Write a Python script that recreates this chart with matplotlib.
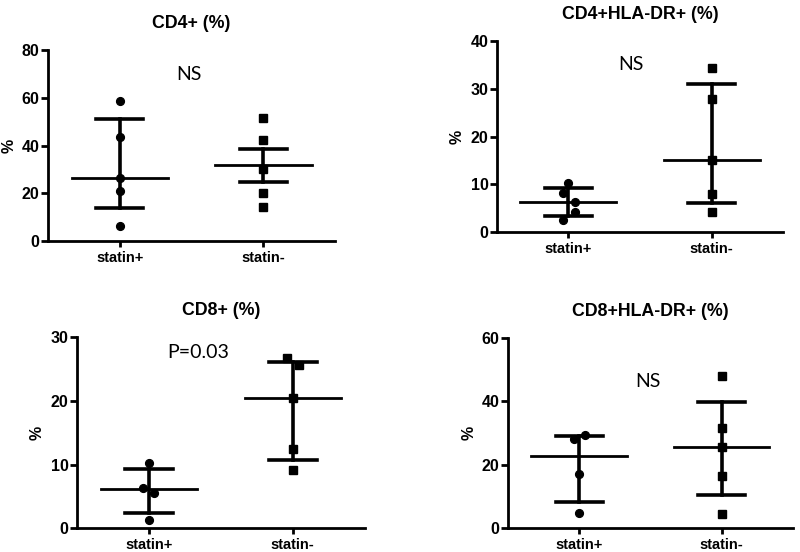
import numpy as np
import matplotlib.pyplot as plt

groups = ['statin+', 'statin-']

titles = ['CD4+ (%)', 'CD4+HLA-DR+ (%)', 'CD8+ (%)', 'CD8+HLA-DR+ (%)']
notes = ['NS', 'NS', 'P=0.03', 'NS']
ymax = [80, 40, 30, 60]
ystep = [20, 10, 10, 20]

# individual values (statin+, statin-)
cd4_pos = [58.6, 43.4, 26.4, 21.0, 6.4]
cd4_neg = [51.6, 42.2, 30.1, 20.3, 14.3]
cd4dr_pos = [10.2, 8.1, 6.2, 4.1, 2.6]
cd4dr_neg = [34.4, 27.8, 15.2, 8.0, 4.2]
cd8_pos = [10.2, 6.4, 5.6, 1.3]
cd8_neg = [26.7, 25.6, 20.5, 12.4, 9.2]
cd8dr_pos = [29.3, 28.0, 17.1, 4.9]
cd8dr_neg = [47.9, 31.6, 25.7, 16.4, 4.4]

# median and range lines (median, low, high)
cd4_stats = [[26.4, 13.7, 51.0], [31.9, 24.9, 38.6]]
cd4dr_stats = [[6.2, 3.3, 9.2], [15.2, 6.1, 31.1]]
cd8_stats = [[6.1, 2.4, 9.3], [20.5, 10.8, 26.1]]
cd8dr_stats = [[22.7, 8.2, 29.0], [25.7, 10.5, 39.8]]

points = [(cd4_pos, cd4_neg), (cd4dr_pos, cd4dr_neg),
          (cd8_pos, cd8_neg), (cd8dr_pos, cd8dr_neg)]
stats = [cd4_stats, cd4dr_stats, cd8_stats, cd8dr_stats]

# small horizontal scatter of the dots, as in the original
jitter = [([0, 0, 0, 0, 0], [0, 0, 0, 0, 0]),
          ([0, -0.035, 0.046, 0.046, -0.035], [0, 0, 0, 0, 0]),
          ([0, -0.037, 0.039, 0], [-0.04, 0.04, 0, 0, 0]),
          ([0.04, -0.04, 0, 0], [0, 0, 0, 0, 0])]

# axes boxes in figure fraction
boxes = [[0.060, 0.5634, 0.359, 0.346],
         [0.621, 0.5797, 0.358, 0.3455],
         [0.096, 0.0429, 0.360, 0.346],
         [0.635, 0.0429, 0.356, 0.345]]
note_pos = [(0.49, 0.87), (0.47, 0.88), (0.42, 0.918), (0.49, 0.773)]

plt.rcParams['font.family'] = ['Liberation Sans', 'DejaVu Sans']
fig = plt.figure(figsize=(8, 5.52), dpi=100)

for i in range(4):
    ax = fig.add_axes(boxes[i])
    for g in range(2):
        vals = points[i][g]
        xs = g + np.array(jitter[i][g][:len(vals)])
        ax.plot(xs, vals, linestyle='none', color='black',
                marker='o' if g == 0 else 's',
                markersize=5.6 if g == 0 else 5.3, zorder=3)
        med, lo, hi = stats[i][g]
        ax.plot([g - 0.335, g + 0.335], [med, med], color='black', lw=2, zorder=2)
        ax.plot([g, g], [lo, hi], color='black', lw=2.6, zorder=2)
        ax.plot([g - 0.165, g + 0.165], [lo, lo], color='black', lw=2.6, zorder=2)
        ax.plot([g - 0.165, g + 0.165], [hi, hi], color='black', lw=2.6, zorder=2)

    ax.set_xlim(-0.5, 1.5)
    ax.set_ylim(0, ymax[i])
    ax.set_xticks([0, 1])
    ax.set_xticklabels(groups, fontweight='bold', fontsize=10.5)
    ax.set_yticks(np.arange(0, ymax[i] + 1, ystep[i]))
    for lab in ax.get_yticklabels():
        lab.set_fontweight('bold')
        lab.set_fontsize(11.5)
    ax.spines['top'].set_visible(False)
    ax.spines['right'].set_visible(False)
    ax.spines['left'].set_linewidth(2)
    ax.spines['bottom'].set_linewidth(2)
    ax.tick_params(axis='y', width=2, length=5, pad=1)
    ax.tick_params(axis='x', width=2, length=4, pad=3)
    ax.set_ylabel('%', fontweight='bold', fontsize=11.5, labelpad=4)
    ax.set_title(titles[i], fontweight='bold', fontsize=12.8, pad=16)
    ax.text(note_pos[i][0], note_pos[i][1], notes[i], transform=ax.transAxes,
            ha='center', va='center', fontsize=14, family=['Lato', 'DejaVu Sans'])

fig.savefig('out.png', dpi=100, facecolor='white')
